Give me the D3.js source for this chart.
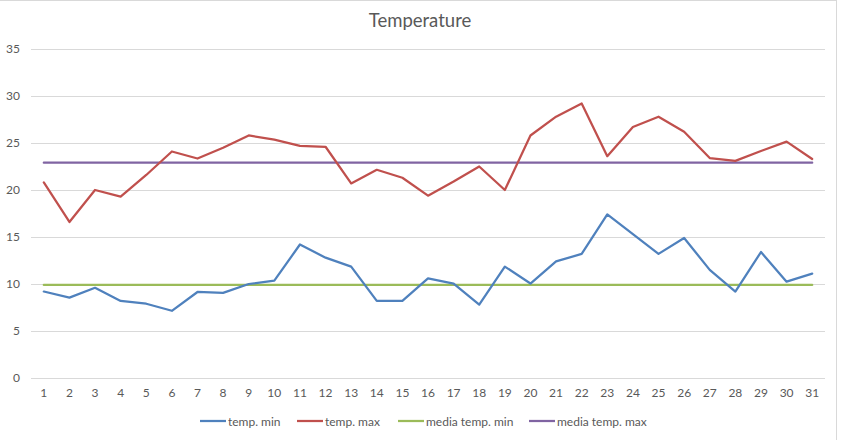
<!DOCTYPE html>
<html><head><meta charset="utf-8">
<script src="https://cdn.jsdelivr.net/npm/d3@7"></script>
<style>body{margin:0;background:#fff}svg{display:block}</style>
</head><body>
<script>
const days = d3.range(1, 32).map(String);
const tempMin = [9.2,8.55,9.6,8.2,7.9,7.15,9.15,9.05,10.0,10.35,14.2,12.8,11.85,8.2,8.2,10.6,10.05,7.8,11.85,10.05,12.4,13.2,17.4,15.3,13.2,14.9,11.5,9.2,13.4,10.25,11.1];
const tempMax = [20.8,16.6,20.0,19.3,21.6,24.1,23.35,24.5,25.8,25.35,24.7,24.6,20.7,22.15,21.3,19.4,20.9,22.5,20.0,25.8,27.8,29.2,23.6,26.7,27.8,26.2,23.4,23.1,24.15,25.15,23.3];
const mediaMin = days.map(() => 9.9);
const mediaMax = days.map(() => 22.9);
const yTicks = [0,5,10,15,20,25,30,35];
const seriesNames = ["temp. min","temp. max","media temp. min","media temp. max"];
const seriesData = [tempMin, tempMax, mediaMin, mediaMax];
const colors = ["#4f81bd","#c0504d","#9bbb59","#8064a2"];

(function () {
const W = 841, H = 440;
const font = "Lato, 'Open Sans', sans-serif";
const svg = d3.select("body").append("svg").attr("width", W).attr("height", H);
svg.append("rect").attr("width", W).attr("height", H).attr("fill", "#fff");
svg.append("line").attr("x1", 836.5).attr("x2", 836.5).attr("y1", 0).attr("y2", H).attr("stroke", "#d9d9d9");
svg.append("line").attr("x1", 0).attr("x2", 837).attr("y1", 0.5).attr("y2", 0.5).attr("stroke", "#d9d9d9");

const mL = 31, mR = 825, mT = 49, mB = 378;
const x = d3.scaleBand().domain(days).range([mL, mR]);
const y = d3.scaleLinear().domain([0, 35]).range([mB, mT]);

svg.append("text").attr("x", 420).attr("y", 27).attr("text-anchor", "middle")
  .attr("font-family", font).attr("font-size", 18.5).attr("fill", "#595959").text("Temperature");

const yAxis = d3.axisLeft(y).tickValues(yTicks).tickSize(-(mR - mL)).tickPadding(10);
const gy = svg.append("g").attr("transform", `translate(${mL},0)`).call(yAxis);
gy.select(".domain").remove();
gy.selectAll(".tick line").attr("stroke", "#d9d9d9").attr("stroke-width", 1);
gy.selectAll(".tick text").attr("font-family", font).attr("font-size", 12).attr("fill", "#595959").attr("x", -11);

const xAxis = d3.axisBottom(x).tickSize(0).tickPadding(10);
const gx = svg.append("g").attr("transform", `translate(0,${mB})`).call(xAxis);
gx.select(".domain").remove();
gx.selectAll(".tick text").attr("font-family", font).attr("font-size", 12).attr("fill", "#595959");

const line = d3.line().x((d, i) => x(days[i]) + x.bandwidth() / 2).y(d => y(d));
[2, 3, 0, 1].forEach(k => {
  svg.append("path").datum(seriesData[k]).attr("d", line)
    .attr("fill", "none").attr("stroke", colors[k]).attr("stroke-width", 2.25)
    .attr("stroke-linejoin", "round").attr("stroke-linecap", "round");
});

const legX = [200, 297, 398, 529];
seriesNames.forEach((n, i) => {
  const g = svg.append("g").attr("transform", `translate(${legX[i]},421)`);
  g.append("line").attr("x1", 0).attr("x2", 26).attr("y1", 0).attr("y2", 0)
    .attr("stroke", colors[i]).attr("stroke-width", 2.25);
  g.append("text").attr("x", 28).attr("y", 4.5).attr("font-family", font).attr("font-size", 12)
    .attr("fill", "#595959").text(n);
});
})();
</script>
</body></html>
